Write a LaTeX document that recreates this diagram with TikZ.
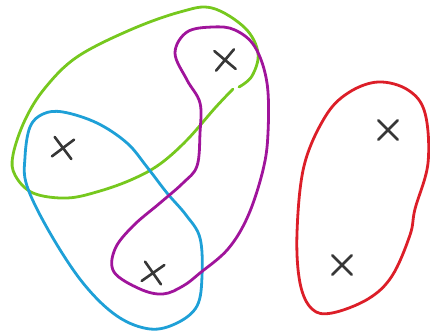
\documentclass[tikz,border=0pt]{standalone}
\usepackage{tikz}
\usetikzlibrary{shapes.misc}
\definecolor{setgreen}{RGB}{118,200,30}
\definecolor{setblue}{RGB}{30,160,215}
\definecolor{setpurple}{RGB}{160,20,155}
\definecolor{setred}{RGB}{220,30,40}
\definecolor{markgray}{RGB}{55,55,55}
\tikzset{
  pt/.style={cross out, draw=markgray, line width=2.6pt, line cap=round,
    minimum size=17pt, inner sep=0pt},
  loop/.style={line width=2.8pt, line cap=round, line join=round}
}

\begin{document}
\begin{tikzpicture}[x=1pt, y=-1pt]
  \useasboundingbox (0,0) rectangle (430,332);

  % the five points
  \node[pt, rotate=5] (a) at (225,60) {};
  \node[pt, rotate=-8] (b) at (63,148) {};
  \node[pt, rotate=-10] (c) at (153,273) {};
  \node[pt] (d) at (388,130) {};
  \node[pt] (e) at (342,265) {};

  % green set
  \draw[loop, setgreen] plot[smooth, tension=0.6] coordinates {
    (233,89) (215,108) (187,140) (160,164) (133,179) (100,191) (67,198)
    (33,193) (15,175) (13,155) (25,120) (45,88) (77,57) (130,30)
    (180,12) (212,8) (245,28) (258,53) (252,76) (239,87)};

  % blue set
  \draw[loop, setblue] plot[smooth cycle, tension=0.6] coordinates {
    (63,112) (97,123) (127,143) (147,167) (167,193) (186,215)
    (200,238) (202,276) (197,306) (177,323) (150,329) (117,316)
    (83,283) (50,233) (27,186) (25,157) (30,127) (43,114)};

  % purple set
  \draw[loop, setpurple] plot[smooth cycle, tension=0.6] coordinates {
    (213,27) (235,30) (255,47) (267,83) (268,133) (263,170)
    (248,216) (228,249) (200,273) (183,286) (163,294) (140,289)
    (114,272) (115,249) (133,226) (160,203) (183,183) (197,166)
    (200,133) (200,103) (187,80) (175,53) (187,32)};

  % red set
  \draw[loop, setred] plot[smooth cycle, tension=0.6] coordinates {
    (378,82) (408,90) (425,113) (428,163) (415,209) (410,235)
    (392,276) (368,299) (332,313) (312,309) (300,283) (297,233)
    (304,166) (325,117) (348,93)};
\end{tikzpicture}
\end{document}
